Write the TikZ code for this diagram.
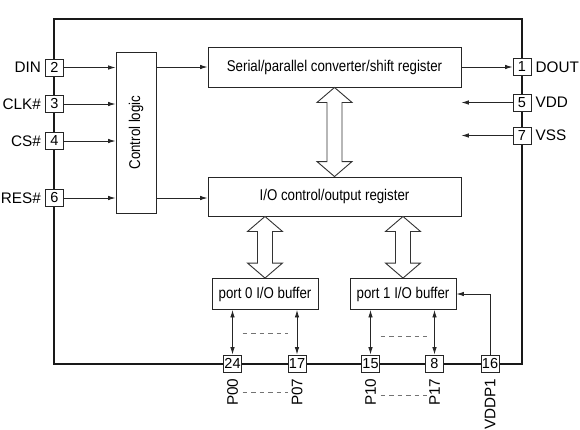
\documentclass[tikz,border=0pt]{standalone}
\usepackage{fontspec}
\setmainfont{Liberation Sans}
\usetikzlibrary{calc,arrows.meta}
\newcommand\narrowtxt[1]{\scalebox{0.85}[1]{#1}}
\tikzset{
  boxtext/.style={font=\fontsize{15.6}{17}\selectfont},
  blk/.style={draw=black!85, line width=0.9pt, boxtext, inner sep=0pt},
  pinbox/.style={draw=black!85, fill=white, line width=0.9pt, minimum width=18pt, minimum height=17pt, inner sep=0pt, font=\fontsize{14.5}{16}\selectfont},
  pinname/.style={font=\fontsize{15.3}{17}\selectfont, inner sep=0pt},
  sig/.style={line width=0.8pt, draw=black!85, -{Latex[length=7.5pt,width=4.5pt]}},
  bidir/.style={line width=0.8pt, draw=black!85, {Latex[length=7.5pt,width=4.5pt]}-{Latex[length=7.5pt,width=4.5pt]}},
  hollow/.style={draw=black!80, line width=0.9pt, fill=white, line join=miter},
  dashln/.style={draw=black!55, line width=0.8pt, dash pattern=on 4.5pt off 4pt},
  frame/.style={draw=black!90, line width=1.9pt}
}
\newcommand\hollowdbl[2]{%
  \draw[hollow] (#1) -- ($(#1)+(17.5,15)$) -- ($(#1)+(7.5,15)$) -- ($(#2)+(7.5,-15)$)
    -- ($(#2)+(17.5,-15)$) -- (#2) -- ($(#2)+(-17.5,-15)$) -- ($(#2)+(-7.5,-15)$)
    -- ($(#1)+(-7.5,15)$) -- ($(#1)+(-17.5,15)$) -- cycle;}
\begin{document}
\begin{tikzpicture}[x=1pt,y=-1pt]
\useasboundingbox (0,0) rectangle (580,429);
% frame
\draw[frame] (54,19) rectangle (522,364);
% blocks
\node[blk, minimum width=40pt, minimum height=161pt] (ctrl) at (136,132.5) {};
\node[rotate=90, boxtext] (ctrltxt) at (ctrl.center) {\narrowtxt{Control logic}};
\node[blk, minimum width=253pt, minimum height=40pt] (ser) at (334.5,67) {\narrowtxt{Serial/parallel converter/shift register}};
\node[blk, minimum width=253pt, minimum height=39pt] (io) at (334.5,196.5) {\narrowtxt{I/O control/output register}};
\node[blk, minimum width=106pt, minimum height=31pt] (p0) at (265,294) {\narrowtxt{port 0 I/O buffer}};
\node[blk, minimum width=106pt, minimum height=31pt] (p1) at (403,294) {\narrowtxt{port 1 I/O buffer}};
% left pins
\node[pinbox] (pin2) at (54.5,67.5) {2};
\node[pinbox] (pin3) at (54.5,104) {3};
\node[pinbox] (pin4) at (54.5,141) {4};
\node[pinbox] (pin6) at (54.5,198) {6};
\node[pinname, anchor=east] (lDIN) at ($(pin2.west)+(-4,0)$) {DIN};
\node[pinname, anchor=east] (lCLK) at ($(pin3.west)+(-4,0)$) {CLK\#};
\node[pinname, anchor=east] (lCS) at ($(pin4.west)+(-4,0)$) {CS\#};
\node[pinname, anchor=east] (lRES) at ($(pin6.west)+(-4,0)$) {RES\#};
% right pins
\node[pinbox] (pin1) at (522,67) {1};
\node[pinbox] (pin5) at (522,102.5) {5};
\node[pinbox] (pin7) at (522,135.5) {7};
\node[pinname, anchor=west] (lDOUT) at ($(pin1.east)+(4,0)$) {DOUT};
\node[pinname, anchor=west] (lVDD) at ($(pin5.east)+(4,0)$) {VDD};
\node[pinname, anchor=west] (lVSS) at ($(pin7.east)+(4,0)$) {VSS};
% bottom pins
\node[pinbox] (pin24) at (232.5,363.5) {24};
\node[pinbox] (pin17) at (297,363.5) {17};
\node[pinbox] (pin15) at (370.5,363.5) {15};
\node[pinbox] (pin8) at (434.5,363.5) {8};
\node[pinbox] (pin16) at (490,363.5) {16};
\foreach \p/\t in {pin24/P00,pin17/P07,pin15/P10,pin8/P17,pin16/VDDP1}{
  \node[pinname, rotate=90, anchor=east] (l\t) at ($(\p.south)+(0,6)$) {\t};
}
% signal arrows
\draw[sig] (pin2.east) -- (ctrl.west |- pin2.east);
\draw[sig] (pin3.east) -- (ctrl.west |- pin3.east);
\draw[sig] (pin4.east) -- (ctrl.west |- pin4.east);
\draw[sig] (pin6.east) -- (ctrl.west |- pin6.east);
\draw[sig] (ctrl.east |- ser.west) -- (ser.west);
\draw[sig] (ctrl.east |- pin6.east) -- (io.west |- pin6.east);
\draw[sig] (ser.east) -- (pin1.west |- ser.east);
\coordinate (vddend) at (pin5.west -| ser.east);
\coordinate (vssend) at (pin7.west -| ser.east);
\draw[sig] (pin5.west) -- (vddend);
\draw[sig] (pin7.west) -- (vssend);
\draw[sig] (pin16.north) |- (p1.east);
% port arrows
\draw[bidir] (pin24.north |- p0.south) -- (pin24.north);
\draw[bidir] (pin17.north |- p0.south) -- (pin17.north);
\draw[bidir] (pin15.north |- p1.south) -- (pin15.north);
\draw[bidir] (pin8.north |- p1.south) -- (pin8.north);
% dashed lines
\draw[dashln] ($(pin24.north)+(10,-21)$) -- ($(pin17.north)+(-9,-21)$);
\draw[dashln] ($(pin15.north)+(10,-18)$) -- ($(pin8.north)+(-8,-18)$);
\draw[dashln] ($(pin24.south)+(10,20)$) -- ($(pin17.south)+(-9,20)$);
\draw[dashln] ($(pin15.south)+(10,23)$) -- ($(pin8.south)+(-8,23)$);
% hollow double arrows
\coordinate (h1t) at (ser.south);
\coordinate (h1b) at (io.north);
\coordinate (h2t) at (io.south -| p0.north);
\coordinate (h2b) at (p0.north);
\coordinate (h3t) at (io.south -| p1.north);
\coordinate (h3b) at (p1.north);
\hollowdbl{h1t}{h1b}
\hollowdbl{h2t}{h2b}
\hollowdbl{h3t}{h3b}
\end{tikzpicture}
\end{document}
